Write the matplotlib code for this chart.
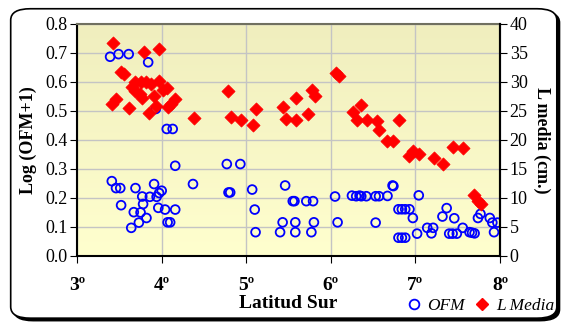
import matplotlib

matplotlib.use("Agg")
import matplotlib.pyplot as plt
import numpy as np
from matplotlib.patches import FancyBboxPatch
from matplotlib.lines import Line2D

# Data
# OFM: latitude (deg S) and Log(OFM+1) - left axis
ofm_lat = [3.39, 3.49, 3.61, 3.84, 3.93, 4.06, 4.13, 4.16,
           3.41, 3.46, 3.51, 3.69, 3.91, 4.37, 4.00, 3.97, 3.94, 3.86, 3.77,
           3.52, 3.78, 3.96, 4.04, 4.16, 3.67, 3.75, 3.82, 3.73, 4.07, 4.10, 3.64,
           4.77, 4.93, 4.79, 4.81, 5.07, 5.46, 5.10, 5.55, 5.57, 5.71, 5.79,
           6.05, 6.25, 6.30, 6.34, 5.43, 5.58, 5.80, 6.08, 5.11, 5.40, 5.58, 5.77,
           6.36, 6.42, 6.53, 6.57, 6.67, 6.73, 6.74, 7.04,
           6.80, 6.84, 6.88, 6.93, 6.97, 6.53, 7.02, 6.80, 6.84, 6.88,
           7.14, 7.21, 7.19, 7.37, 7.32, 7.46, 7.40, 7.44, 7.49, 7.56,
           7.64, 7.67, 7.70, 7.74, 7.77, 7.88, 7.91, 7.97, 7.93]
ofm_val = [0.687, 0.696, 0.696, 0.668, 0.507, 0.438, 0.438, 0.311,
           0.258, 0.234, 0.234, 0.234, 0.248, 0.248, 0.225, 0.217, 0.204, 0.204, 0.205,
           0.175, 0.179, 0.166, 0.160, 0.160, 0.151, 0.150, 0.131, 0.115, 0.116, 0.116, 0.097,
           0.317, 0.317, 0.219, 0.219, 0.229, 0.243, 0.160, 0.189, 0.189, 0.189, 0.189,
           0.205, 0.208, 0.206, 0.208, 0.116, 0.116, 0.116, 0.116, 0.082, 0.082, 0.082, 0.082,
           0.206, 0.206, 0.206, 0.206, 0.207, 0.243, 0.241, 0.209,
           0.161, 0.161, 0.161, 0.161, 0.131, 0.115, 0.077, 0.063, 0.063, 0.063,
           0.097, 0.097, 0.078, 0.165, 0.136, 0.130, 0.077, 0.077, 0.077, 0.097,
           0.082, 0.080, 0.078, 0.131, 0.145, 0.131, 0.115, 0.115, 0.082]

# L media: latitude (deg S) and mean length in cm - right axis
lm_lat = [3.42, 3.79, 3.97, 3.52, 3.55, 3.68, 3.75, 3.82, 3.87, 3.97, 3.65, 3.69,
          3.74, 3.77, 3.91, 4.02, 4.06, 3.46, 3.41, 3.61, 3.93, 3.85, 4.07, 4.11,
          4.16, 4.38,
          4.79, 4.82, 4.94, 5.08, 5.11, 5.44, 5.47, 5.59, 5.59, 5.73, 5.78, 5.81,
          6.06, 6.10, 6.26, 6.31, 6.36, 6.43, 6.55, 6.57, 6.81,
          6.67, 6.73, 6.97, 6.93, 7.04, 7.22, 7.33, 7.44, 7.56, 7.69, 7.74, 7.78]
lm_val = [36.7, 35.2, 35.7, 31.7, 31.3, 30.0, 30.0, 30.0, 29.6, 30.2, 29.1, 28.5,
          27.9, 27.3, 27.5, 28.6, 28.9, 27.0, 26.2, 25.5, 25.8, 24.7, 25.6, 26.2,
          27.0, 23.8,
          28.4, 24.0, 23.4, 22.6, 25.4, 25.7, 23.7, 27.2, 23.4, 24.5, 28.7, 27.6,
          31.5, 31.1, 24.9, 23.4, 26.0, 23.5, 23.2, 21.8, 23.5,
          19.9, 19.9, 18.1, 17.2, 17.5, 16.9, 15.9, 18.8, 18.6, 10.5, 9.5, 9.0]

x_ticks = [3, 4, 5, 6, 7, 8]
x_labels = ["3º", "4º", "5º", "6º", "7º", "8º"]

SERIF = ["Liberation Serif", "DejaVu Serif"]
plt.rcParams["font.family"] = SERIF

fig = plt.figure(figsize=(5.63, 3.24), dpi=100)
fig.patch.set_facecolor("white")

# rounded outer frame with a small shadow
shadow = FancyBboxPatch((0.024, 0.010), 0.97, 0.955,
                        boxstyle="round,pad=0,rounding_size=0.035",
                        transform=fig.transFigure, facecolor="black",
                        edgecolor="black", lw=1, zorder=-2)
frame = FancyBboxPatch((0.019, 0.018), 0.97, 0.955,
                       boxstyle="round,pad=0,rounding_size=0.035",
                       transform=fig.transFigure, facecolor="white",
                       edgecolor="black", lw=1.2, zorder=-1)
fig.patches.extend([shadow, frame])

ax = fig.add_axes([0.137, 0.21, 0.751, 0.716])
ax.set_xlim(3, 8)
ax.set_ylim(0, 0.8)

# yellow gradient background of the plot area
grad = np.linspace(0, 1, 256).reshape(-1, 1)
top = np.array([255, 255, 206]) / 255
bot = np.array([240, 238, 190]) / 255
img = top[None, None, :] * (1 - grad[:, :, None]) + bot[None, None, :] * grad[:, :, None]
ax.imshow(img, extent=[3, 8, 0.8, 0], aspect="auto", zorder=0)
ax.set_ylim(0, 0.8)

ax.set_yticks(np.arange(0, 0.81, 0.1))
ax.set_yticklabels(["%.1f" % v for v in np.arange(0, 0.81, 0.1)], fontsize=13)
ax.set_xticks(x_ticks)
ax.set_xticklabels(x_labels, fontsize=14, fontweight="bold")
ax.tick_params(axis="x", length=5, pad=10)
ax.tick_params(axis="y", length=5, pad=2)
ax.grid(True, color="#c4c4c4", lw=1, zorder=1)
ax.set_axisbelow(True)
for s in ax.spines.values():
    s.set_color("black")
    s.set_linewidth(1.5)
ax.spines["top"].set_color("#707060")

ax.set_ylabel("Log (OFM+1)", fontsize=13, fontweight="bold", labelpad=6)
ax.set_xlabel("Latitud Sur", fontsize=14, fontweight="bold", labelpad=1)

ax.scatter(ofm_lat, ofm_val, s=40, marker="o", facecolors="none",
           edgecolors="#0000ff", linewidths=1.3, zorder=3)

ax2 = ax.twinx()
ax2.set_ylim(0, 40)
ax2.set_yticks(range(0, 41, 5))
ax2.set_yticklabels([str(v) for v in range(0, 41, 5)], fontsize=13)
ax2.tick_params(axis="y", length=5, pad=2)
for s in ax2.spines.values():
    s.set_visible(False)
ax2.spines["right"].set_visible(True)
ax2.spines["right"].set_linewidth(1.5)
ax2.set_ylabel("L media (cm.)", fontsize=13, fontweight="bold",
               rotation=270, labelpad=16)
ax2.scatter(lm_lat, lm_val, s=45, marker="D", color="#ff0000",
            edgecolors="#ff0000", linewidths=0.5, zorder=4)

handles = [
    Line2D([], [], marker="o", ls="none", markerfacecolor="none",
           markeredgecolor="#0000ff", markeredgewidth=1.3, markersize=7),
    Line2D([], [], marker="D", ls="none", color="#ff0000", markersize=6),
]
fig.legend(handles, ["OFM", "L Media"], loc="center right",
           bbox_to_anchor=(0.985, 0.057), ncol=2, frameon=False,
           prop={"family": SERIF, "style": "italic", "size": 12.5},
           handletextpad=0.3, columnspacing=0.5, handlelength=1.0,
           borderpad=0, borderaxespad=0)

fig.savefig("out.png", dpi=100)
plt.close(fig)
